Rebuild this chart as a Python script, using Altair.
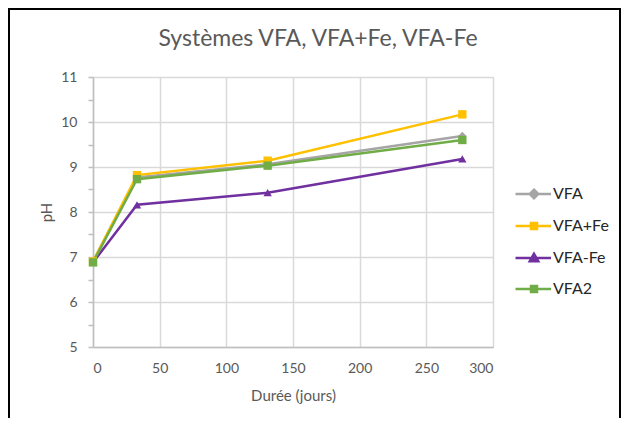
import altair as alt
import pandas as pd

days = [0, 33, 131, 277]
series_names = ["VFA", "VFA+Fe", "VFA-Fe", "VFA2"]
marker_keys = ["m-diamond", "m-square-a", "m-triangle", "m-square-b"]
ph_vfa = [6.9, 8.77, 9.06, 9.69]
ph_vfa_fe_plus = [6.9, 8.82, 9.14, 10.17]
ph_vfa_fe_minus = [6.88, 8.16, 8.43, 9.18]
ph_vfa2 = [6.88, 8.73, 9.03, 9.60]
colors = ["#A5A5A5", "#FFC000", "#7030A0", "#70AD47"]
shapes = ["diamond", "square", "triangle-up", "square"]
y_ticks = [5, 5.5, 6, 6.5, 7, 7.5, 8, 8.5, 9, 9.5, 10, 10.5, 11]
x_ticks = [0, 50, 100, 150, 200, 250, 300]

rows = []
for name, mk, vals in zip(series_names, marker_keys,
                          [ph_vfa, ph_vfa_fe_plus, ph_vfa_fe_minus, ph_vfa2]):
    for d, v in zip(days, vals):
        rows.append({"series": name, "marker": mk, "jours": d, "pH": v})
df = pd.DataFrame(rows)

FONT = "Lato"
GREY_TXT = "#595959"

legend_paths = {
    "VFA": "M-3.7,0H3.4M0,-0.85L0.85,0L0,0.85L-0.85,0Z",
    "VFA+Fe": "M-3.7,0H3.4M-0.6,-0.6H0.6V0.6H-0.6Z",
    "VFA-Fe": "M-3.7,0H3.4M0,-0.85L0.85,0.65L-0.85,0.65Z",
    "VFA2": "M-3.7,0H3.4M-0.6,-0.6H0.6V0.6H-0.6Z",
}
shape_expr = " : ".join(
    [f"datum.value === '{k}' ? '{v}'" for k, v in legend_paths.items()]
) + " : 'circle'"
color_expr = " : ".join(
    [f"datum.value === '{k}' ? '{c}'" for k, c in zip(series_names, colors)]
) + " : 'black'"

LEGEND_ENCODE = {
    "symbols": {
        "update": {
            "shape": {"signal": shape_expr},
            "fill": {"signal": color_expr},
            "stroke": {"signal": color_expr},
            "strokeWidth": {"value": 2.5},
            "opacity": {"value": 1},
        }
    }
}

color_scale = alt.Scale(domain=series_names, range=colors)
shape_scale = alt.Scale(domain=marker_keys, range=shapes)

legend = alt.Legend(
    title=None,
    orient="none",
    legendX=433,
    legendY=109,
    symbolSize=100,
    labelOffset=11,
    labelFont=FONT,
    labelFontSize=16,
    labelColor="#262626",
    rowPadding=14,
    padding=0,
)

x_enc = alt.X(
    "jours:Q",
    scale=alt.Scale(domain=[0, 300], nice=False),
    axis=alt.Axis(
        values=x_ticks,
        title="Durée (jours)",
        titleFont=FONT,
        titleFontSize=15,
        titleFontWeight="normal",
        titleColor=GREY_TXT,
        titlePadding=13,
        labelFont=FONT,
        labelFontSize=14,
        labelColor=GREY_TXT,
        labelPadding=14,
        ticks=False,
        domainColor="#BFBFBF",
        domainWidth=1.5,
        gridColor="#D9D9D9",
        gridWidth=1.5,
    ),
)
y_enc = alt.Y(
    "pH:Q",
    scale=alt.Scale(domain=[5, 11], nice=False, zero=False),
    axis=alt.Axis(
        values=y_ticks,
        format=".0f",
        title="pH",
        titleFont=FONT,
        titleFontSize=15,
        titleFontWeight="normal",
        titleColor=GREY_TXT,
        titlePadding=6,
        labelFont=FONT,
        labelFontSize=14,
        labelColor=GREY_TXT,
        labelPadding=11,
        labelExpr="datum.value % 1 ? '' : datum.label",
        tickSize=5,
        tickColor="#BFBFBF",
        tickWidth=1.5,
        domainColor="#BFBFBF",
        domainWidth=1.5,
        gridColor="#D9D9D9",
        gridWidth=1.5,
        gridOpacity={"expr": "datum.value % 1 ? 0 : 1"},
    ),
)

base = alt.Chart(df)
lines = base.mark_line(strokeWidth=2.5).encode(
    x=x_enc,
    y=y_enc,
    color=alt.Color("series:N", scale=color_scale, legend=legend),
    detail="series:N",
    order="jours:Q",
)
points = base.mark_point(filled=True, size=70, opacity=1).encode(
    x=x_enc,
    y=y_enc,
    color=alt.Color("series:N", scale=color_scale, legend=None),
    shape=alt.Shape("marker:N", scale=shape_scale, legend=None),
)

frame = alt.Chart(pd.DataFrame({"a": [0]})).mark_rect(
    fill=None, stroke="black", strokeWidth=2
).encode(
    x=alt.value(-84), x2=alt.value(527), y=alt.value(-68), y2=alt.value(420)
)

chart = alt.layer(frame, lines, points).properties(
    width=400,
    height=270,
    padding={"left": 85, "top": 69, "right": 128, "bottom": 71},
    autosize=alt.AutoSizeParams(type="none"),
    title=alt.TitleParams(
        "Systèmes VFA, VFA+Fe, VFA-Fe",
        font=FONT,
        fontSize=23,
        fontWeight="normal",
        color=GREY_TXT,
        anchor="middle",
        frame="group",
        baseline="alphabetic",
        dx=25,
        offset=-61,
    ),
).configure_view(stroke=None).configure(background="white")

# Inject custom legend symbol encoding (line + marker) after validation.
_orig_to_dict = alt.LayerChart.to_dict


def _to_dict_with_legend(self, *args, **kwargs):
    spec = _orig_to_dict(self, *args, **kwargs)
    for layer in spec.get("layer", []):
        lg = layer.get("encoding", {}).get("color", {}).get("legend")
        if isinstance(lg, dict):
            lg["encode"] = LEGEND_ENCODE
    return spec


alt.LayerChart.to_dict = _to_dict_with_legend

chart.save("out.html", embed_options={"renderer": "svg", "actions": False})
